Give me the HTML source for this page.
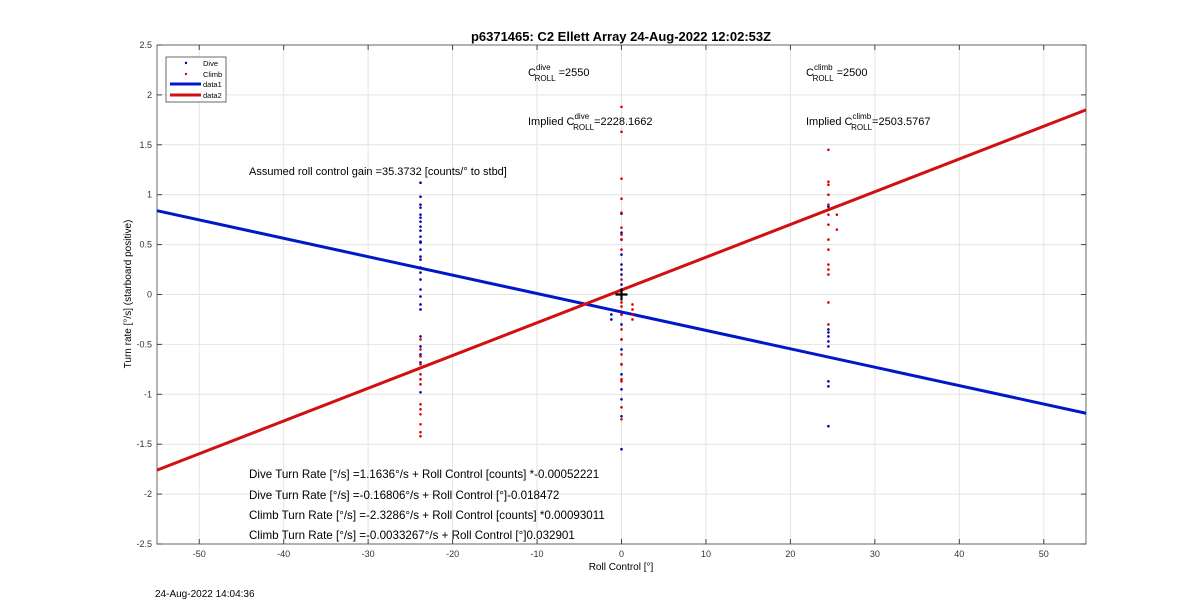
<!DOCTYPE html>
<html><head><meta charset="utf-8"><style>
body{margin:0;background:#fff;font-family:"Liberation Sans",sans-serif}
svg text{font-family:"Liberation Sans",sans-serif}
</style></head><body>
<svg width="1200" height="611" xmlns="http://www.w3.org/2000/svg">
<rect width="1200" height="611" fill="#fff"/>
<g id="grid"></g>
<g id="axes"></g>
<g id="marks"></g>
<text x="621" y="41" font-size="13" font-weight="bold" text-anchor="middle">p6371465: C2 Ellett Array 24-Aug-2022 12:02:53Z</text>
<text x="621" y="570" font-size="10" text-anchor="middle">Roll Control [°]</text>
<text transform="translate(131,294) rotate(-90)" font-size="10" text-anchor="middle">Turn rate [°/s] (starboard positive)</text>
<text x="155" y="597" font-size="10">24-Aug-2022 14:04:36</text>
<g font-size="11">
<text x="528" y="76">C<tspan font-size="8" dy="-6">dive</tspan><tspan font-size="8" dx="-16" dy="11">ROLL</tspan><tspan dy="-5"> =2550</tspan></text>
<text x="806" y="76">C<tspan font-size="8" dy="-6">climb</tspan><tspan font-size="8" dx="-20" dy="11">ROLL</tspan><tspan dy="-5"> =2500</tspan></text>
<text x="528" y="125">Implied C<tspan font-size="8" dy="-6">dive</tspan><tspan font-size="8" dx="-16" dy="11">ROLL</tspan><tspan dy="-5">=2228.1662</tspan></text>
<text x="806" y="125">Implied C<tspan font-size="8" dy="-6">climb</tspan><tspan font-size="8" dx="-20" dy="11">ROLL</tspan><tspan dy="-5">=2503.5767</tspan></text>
<text x="249" y="175">Assumed roll control gain =35.3732 [counts/° to stbd]</text>
<g font-size="11.6">
<text x="249" y="478">Dive Turn Rate [°/s] =1.1636°/s + Roll Control [counts] *-0.00052221</text>
<text x="249" y="499">Dive Turn Rate [°/s] =-0.16806°/s + Roll Control [°]-0.018472</text>
<text x="249" y="519">Climb Turn Rate [°/s] =-2.3286°/s + Roll Control [counts] *0.00093011</text>
<text x="249" y="539">Climb Turn Rate [°/s] =-0.0033267°/s + Roll Control [°]0.032901</text>
</g>
</g>
<g>
<rect x="166" y="57" width="60" height="45" fill="#fff" stroke="#444" stroke-width="0.8"/>
<circle cx="186" cy="63" r="1.2" fill="#0000b0"/><text x="203" y="66" font-size="7.5">Dive</text>
<circle cx="186" cy="74" r="1.2" fill="#d00"/><text x="203" y="77" font-size="7.5">Climb</text>
<line x1="170" y1="84" x2="201" y2="84" stroke="#0018c8" stroke-width="3"/><text x="203" y="87" font-size="7.5">data1</text>
<line x1="170" y1="95" x2="201" y2="95" stroke="#d21010" stroke-width="3"/><text x="203" y="98" font-size="7.5">data2</text>
</g>
</svg>
<script>
const xTicks=[-50,-40,-30,-20,-10,0,10,20,30,40,50];
const yTicks=[-2.5,-2,-1.5,-1,-0.5,0,0.5,1,1.5,2,2.5];
const diveX=[-23.8,-23.8,-23.8,-23.8,-23.8,-23.8,-23.8,-23.8,-23.8,-23.8,-23.8,-23.8,-23.8,-23.8,-23.8,-23.8,-23.8,-23.8,-23.8,-23.8,-23.8,-23.8,-23.8,-23.8,-23.8,-23.8,-23.8,0,0,0,0,0,0,0,0,0,0,0,0,0,0,0,0,0,0,0,-1.2,-1.2,24.5,24.5,24.5,24.5,24.5,24.5,24.5,24.5,24.5];
const diveY=[1.12,0.98,0.9,0.87,0.8,0.77,0.73,0.68,0.64,0.58,0.53,0.52,0.45,0.38,0.35,0.27,0.22,0.15,0.05,-0.02,-0.1,-0.15,-0.42,-0.52,-0.6,-0.68,-0.98,0.81,0.62,0.55,0.4,0.3,0.25,0.2,0.1,0.05,-0.2,-0.3,-0.45,-0.55,-0.7,-0.8,-0.95,-1.05,-1.22,-1.55,-0.2,-0.25,0.88,-0.35,-0.38,-0.42,-0.47,-0.52,-0.87,-0.92,-1.32];
const climbX=[-23.8,-23.8,-23.8,-23.8,-23.8,-23.8,-23.8,-23.8,-23.8,-23.8,-23.8,-23.8,-23.8,0,0,0,0,0,0,0,0,0,0,0,0,0,0,0,0,0,0,0,0,0,1.3,1.3,1.3,1.3,24.5,24.5,24.5,24.5,24.5,24.5,24.5,24.5,24.5,24.5,24.5,24.5,24.5,24.5,24.5,25.5,25.5];
const climbY=[-0.45,-0.55,-0.62,-0.7,-0.8,-0.85,-0.9,-1.1,-1.15,-1.2,-1.3,-1.38,-1.42,1.88,1.63,1.16,0.96,0.82,0.67,0.6,0.55,0.45,0.15,-0.08,-0.12,-0.2,-0.35,-0.45,-0.6,-0.7,-0.85,-0.87,-1.13,-1.25,-0.1,-0.15,-0.2,-0.25,1.45,1.13,1.1,1.0,0.9,0.85,0.8,0.7,0.55,0.45,0.3,0.25,0.2,-0.08,-0.3,0.8,0.65];
const fitX=[-55,55];
const diveFit=[0.84,-1.19];
const climbFit=[-1.76,1.85];
const X0=157,X1=1086,Y0=544,Y1=45,xmin=-55,xmax=55,ymin=-2.5,ymax=2.5;
const sx=v=>X0+(v-xmin)/(xmax-xmin)*(X1-X0);
const sy=v=>Y0-(v-ymin)/(ymax-ymin)*(Y0-Y1);
const NS="http://www.w3.org/2000/svg";
function mk(p,t,a){const e=document.createElementNS(NS,t);for(const k in a)e.setAttribute(k,a[k]);p.appendChild(e);return e;}
const G=document.getElementById('grid'),A=document.getElementById('axes'),M=document.getElementById('marks');
xTicks.forEach(v=>{const l=mk(G,'line',{x1:sx(v),x2:sx(v),y1:Y1,y2:Y0,stroke:'#e4e4e4','stroke-width':1});


const t=mk(A,'text',{x:sx(v),y:Y0+13,'font-size':9,'text-anchor':'middle',fill:'#333'});t.textContent=v;


mk(A,'line',{x1:sx(v),x2:sx(v),y1:Y0,y2:Y0-5,stroke:'#444'});mk(A,'line',{x1:sx(v),x2:sx(v),y1:Y1,y2:Y1+5,stroke:'#444'});});
yTicks.forEach(v=>{const l=mk(G,'line',{x1:X0,x2:X1,y1:sy(v),y2:sy(v),stroke:'#e4e4e4','stroke-width':1});


const t=mk(A,'text',{x:X0-5,y:sy(v)+3,'font-size':9,'text-anchor':'end',fill:'#333'});t.textContent=v;


mk(A,'line',{x1:X0,x2:X0+5,y1:sy(v),y2:sy(v),stroke:'#444'});mk(A,'line',{x1:X1,x2:X1-5,y1:sy(v),y2:sy(v),stroke:'#444'});});
const box=mk(A,'rect',{x:X0,y:Y1,width:X1-X0,height:Y0-Y1,fill:'none',stroke:'#444','stroke-width':0.8});


const dl=mk(M,'line',{x1:sx(fitX[0]),y1:sy(diveFit[0]),x2:sx(fitX[1]),y2:sy(diveFit[1]),stroke:'#0018c8','stroke-width':3});


const cl=mk(M,'line',{x1:sx(fitX[0]),y1:sy(climbFit[0]),x2:sx(fitX[1]),y2:sy(climbFit[1]),stroke:'#d21010','stroke-width':3});


diveX.forEach((x,i)=>{const c=mk(M,'circle',{cx:sx(x),cy:sy(diveY[i]),r:1.3,fill:'#0000b0'});

});
climbX.forEach((x,i)=>{const c=mk(M,'circle',{cx:sx(x),cy:sy(climbY[i]),r:1.3,fill:'#d00'});

});
const cx=sx(0),cy=sy(0);
const p=mk(M,'path',{d:`M${cx-6},${cy}H${cx+6}M${cx},${cy-6}V${cy+6}`,stroke:'#000','stroke-width':2.2});


</script>
</body></html>
